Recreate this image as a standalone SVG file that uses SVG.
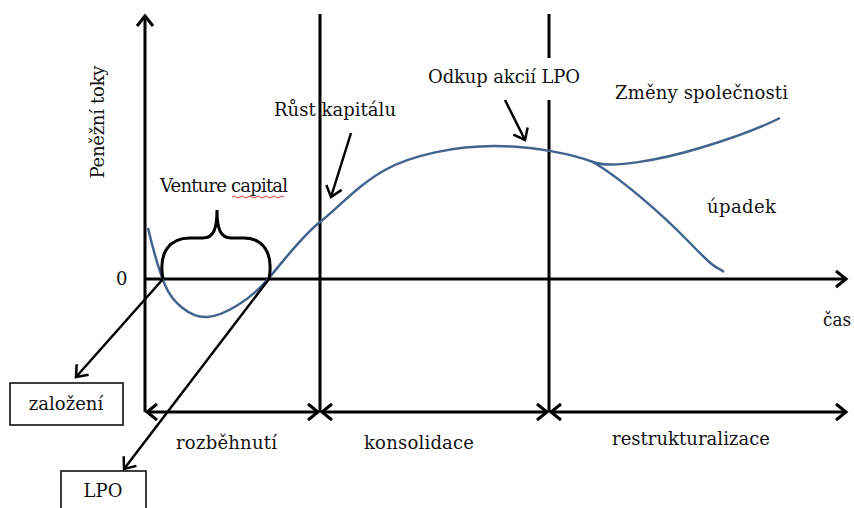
<svg xmlns="http://www.w3.org/2000/svg" width="854" height="508" viewBox="0 0 854 508">
<style>
text{font-family:"DejaVu Serif","Liberation Serif",serif;font-size:18px;fill:#111}
.ax{stroke:#000;stroke-width:3;fill:none}
.ptr{stroke:#000;stroke-width:2.5;fill:none}
.cv{stroke:#41648f;stroke-width:2.5;fill:none}
.box{fill:#fff;stroke:#000;stroke-width:1.5}
</style>
<defs>
<marker id="ah" markerUnits="userSpaceOnUse" markerWidth="16" markerHeight="20" refX="13" refY="10" orient="auto-start-reverse" viewBox="0 0 16 20">
<path d="M3,2 L13,10 L3,18" fill="none" stroke="#000" stroke-width="3"/>
</marker>
<marker id="ahs" markerUnits="userSpaceOnUse" markerWidth="16" markerHeight="20" refX="13" refY="10" orient="auto" viewBox="0 0 16 20">
<path d="M3,2 L13,10 L3,18" fill="none" stroke="#000" stroke-width="2.5"/>
</marker>
</defs>
<rect width="854" height="508" fill="#fff"/>
<g id="connectors">
<line class="ax" x1="145" y1="412" x2="145" y2="16" marker-end="url(#ah)"/>
<line class="ax" x1="145" y1="279" x2="846" y2="279" marker-end="url(#ah)"/>
<line class="ax" x1="320" y1="14" x2="320" y2="412"/>
<line class="ax" x1="549" y1="14" x2="549" y2="58"/>
<line class="ax" x1="549" y1="100" x2="549" y2="412"/>
<line class="ax" x1="147" y1="412" x2="318" y2="412" marker-start="url(#ah)" marker-end="url(#ah)"/>
<line class="ax" x1="322" y1="412" x2="547" y2="412" marker-start="url(#ah)" marker-end="url(#ah)"/>
<line class="ax" x1="551" y1="412" x2="846" y2="412" marker-start="url(#ah)" marker-end="url(#ah)"/>
<path class="cv" d="M148,228 C152,245 158,268 165,285 S190,318 207,317 S250,300 268,279 S302,236 320,222 S358,185 385,170 S455,146 495,146 S575,155 593,162 S660,160 700,148 S760,128 780,118"/>
<path class="cv" d="M593,162 C620,178 660,212 690,243 S715,265 724,272"/>
<path class="ax" d="M163,279 C158,252 170,238 190,238 L203,238 C213,238 217,230 217,210 C217,230 221,238 231,238 L244,238 C262,238 274,252 269,279"/>
<line class="ptr" x1="163" y1="279" x2="76" y2="377" marker-end="url(#ahs)"/>
<line class="ptr" x1="269" y1="279" x2="124" y2="469" marker-end="url(#ahs)"/>
<line class="ptr" x1="351" y1="133" x2="331" y2="197" marker-end="url(#ahs)"/>
<line class="ptr" x1="505" y1="100" x2="525" y2="140" marker-end="url(#ahs)"/>
</g>
<g id="yLabel"><text transform="translate(104,122) rotate(-90)" text-anchor="middle" textLength="113">Peněžní toky</text></g>
<g id="zero"><text x="116" y="285">0</text></g>
<g id="cas"><text x="823" y="326" textLength="28" lengthAdjust="spacingAndGlyphs">čas</text></g>
<g id="venture"><text x="160" y="192" textLength="128">Venture capital</text>
<path d="M232,197 q2,-2 4,0 t4,0 t4,0 t4,0 t4,0 t4,0 t4,0 t4,0 t4,0 t4,0 t4,0 t4,0 t4,0" stroke="#e03030" stroke-width="1" fill="none"/></g>
<g id="rust"><text x="274" y="116" textLength="122">Růst kapitálu</text></g>
<g id="odkup"><text x="428" y="83" textLength="152">Odkup akcií LPO</text></g>
<g id="zmeny"><text x="615" y="99" textLength="173">Změny společnosti</text></g>
<g id="upadek"><text x="707" y="213" textLength="69">úpadek</text></g>
<g id="rozbehnuti"><text x="176" y="449" textLength="101">rozběhnutí</text></g>
<g id="konsolidace"><text x="364" y="449" textLength="110">konsolidace</text></g>
<g id="restrukturalizace"><text x="612" y="445" textLength="158">restrukturalizace</text></g>
<g id="zalozeni"><rect class="box" x="10" y="383" width="113" height="42"/><text x="66" y="410" text-anchor="middle">založení</text></g>
<g id="lpo"><rect class="box" x="61" y="471" width="85" height="45"/><text x="103" y="497" text-anchor="middle">LPO</text></g>
</svg>
